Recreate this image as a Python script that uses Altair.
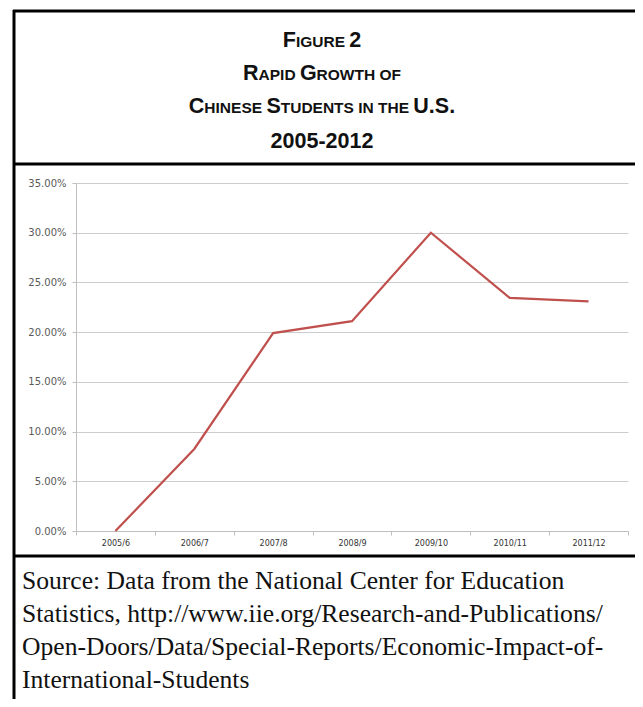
import altair as alt
import pandas as pd

# ---------------- data ----------------
years = ["2005/6", "2006/7", "2007/8", "2008/9", "2009/10", "2010/11", "2011/12"]
growth = [0.0, 0.0825, 0.199, 0.211, 0.300, 0.2345, 0.231]
y_ticks = [0.0, 0.05, 0.10, 0.15, 0.20, 0.25, 0.30, 0.35]

title_lines = ["Figure 2", "Rapid Growth of", "Chinese Students in the U.S.", "2005-2012"]
source_lines = [
    "Source: Data from the National Center for Education",
    "Statistics, http://www.iie.org/Research-and-Publications/",
    "Open-Doors/Data/Special-Reports/Economic-Impact-of-",
    "International-Students",
]

# ---------------- layout ----------------
PLOT_W, PLOT_H = 552, 348
PAD_L, PAD_T = 68, 175
TOTAL_W, TOTAL_H = 627, 691
PAD_R = TOTAL_W - PAD_L - PLOT_W
PAD_B = TOTAL_H - PAD_T - PLOT_H
OX, OY = PAD_L + 8, PAD_T + 8  # plot origin in page coordinates


def px(x):
    return x - OX


def py(y):
    return y - OY


one = pd.DataFrame({"a": [0]})

# Arial / Liberation Sans Bold advance widths (1/1000 em)
W = {" ": 278, "-": 333, ".": 278, "/": 278,
     "A": 722, "B": 722, "C": 722, "D": 722, "E": 667, "F": 611, "G": 778, "H": 722,
     "I": 278, "J": 556, "K": 722, "L": 611, "M": 833, "N": 722, "O": 778, "P": 667,
     "Q": 778, "R": 722, "S": 667, "T": 611, "U": 722, "V": 667, "W": 944, "X": 667,
     "Y": 667, "Z": 611}
for d in "0123456789":
    W[d] = 556
BIG, SMALL = 21.5, 15.5


def segments(line):
    """Small caps: lowercase letters are drawn as smaller capitals.
    Spaces stay attached to the preceding run so no run starts with a space."""
    segs = []
    for ch in line:
        kind = segs[-1][1] if (ch == " " and segs) else ("s" if ch.islower() else "b")
        if segs and segs[-1][1] == kind:
            segs[-1][0] += ch
        else:
            segs.append([ch, kind])
    out = []
    for txt, kind in segs:
        size = SMALL if kind == "s" else BIG
        out.append((txt.upper(), size, sum(W[c] for c in txt.upper()) * size / 1000))
    return out


layers = []

# borders
border_specs = [
    (14, 14, 10, 720),      # left border
    (13, 660, 11, 11),      # title box top
    (13, 660, 164, 164),    # divider under title
    (13, 660, 556, 556),    # divider above source
]
for x1, x2, y1, y2 in border_specs:
    layers.append(
        alt.Chart(one).mark_rule(color="black", strokeWidth=3).encode(
            x=alt.value(px(x1)), x2=alt.value(px(x2)),
            y=alt.value(py(y1)), y2=alt.value(py(y2)))
    )

# title (small caps)
title_center = 322
title_baselines = [47, 80, 113, 148]
for line, base in zip(title_lines, title_baselines):
    segs = segments(line)
    total = sum(s[2] for s in segs)
    x = title_center - total / 2
    for txt, size, w in segs:
        layers.append(
            alt.Chart(one).mark_text(
                text=txt, font="Liberation Sans", fontWeight="bold", fontSize=size,
                align="left", baseline="alphabetic", color="#111111"
            ).encode(x=alt.value(px(x)), y=alt.value(py(base)))
        )
        x += w

# source text
source_baselines = [589, 622, 655, 688]
for line, base in zip(source_lines, source_baselines):
    layers.append(
        alt.Chart(one).mark_text(
            text=line, font="Liberation Serif", fontSize=25.6, align="left",
            baseline="alphabetic", color="#111111"
        ).encode(x=alt.value(px(22)), y=alt.value(py(base)))
    )

# the line chart
df = pd.DataFrame({"year": years, "growth": growth})
line = alt.Chart(df).mark_line(color="#c0504d", strokeWidth=2.2).encode(
    x=alt.X("year:O", sort=years,
            scale=alt.Scale(type="band", paddingInner=0, paddingOuter=0),
            axis=alt.Axis(title=None, labelAngle=0, labelFont="DejaVu Sans",
                          labelFontSize=8, labelColor="#333333", tickBand="extent",
                          tickSize=4, tickColor="#bfbfbf", domainColor="#bfbfbf",
                          labelPadding=4, grid=False)),
    y=alt.Y("growth:Q", scale=alt.Scale(domain=[0, 0.35], nice=False),
            axis=alt.Axis(title=None, values=y_ticks, format=".2%",
                          labelFont="DejaVu Sans", labelFontSize=10,
                          labelColor="#595959", tickSize=4, tickColor="#bfbfbf",
                          domainColor="#bfbfbf", gridColor="#cccccc",
                          labelPadding=6, grid=True)),
)
layers.append(line)

chart = alt.layer(*layers).properties(
    width=PLOT_W, height=PLOT_H,
    autosize=alt.AutoSizeParams(type="none"),
    padding={"left": PAD_L, "top": PAD_T, "right": PAD_R, "bottom": PAD_B},
).configure_view(stroke=None)

chart.save("out.html", embed_options={"renderer": "svg", "actions": False})
